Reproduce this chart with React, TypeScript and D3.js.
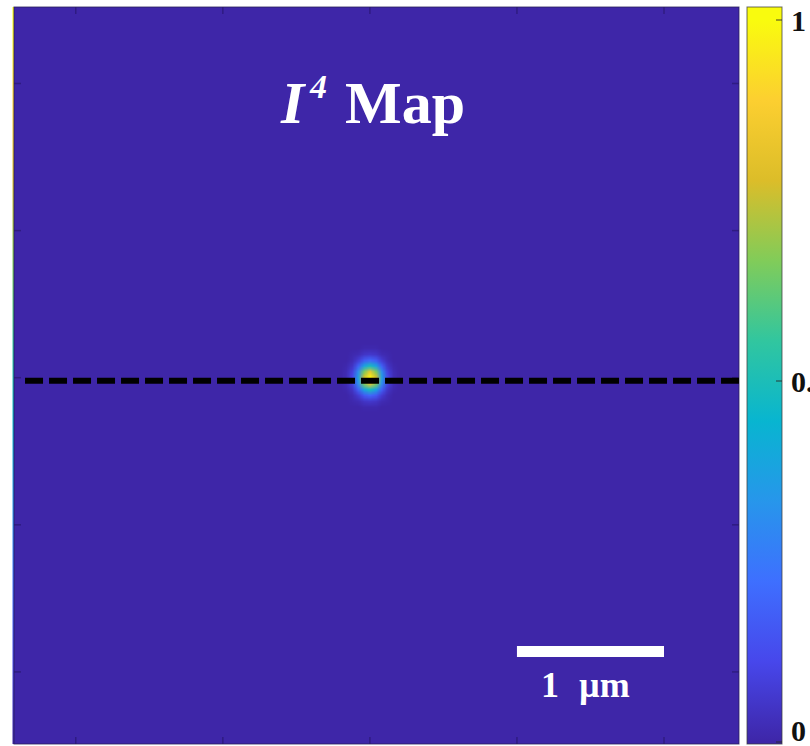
import React, { useEffect, useRef } from 'react';
import * as d3 from 'd3';

// parula colormap (10 samples, 0 -> 1)
const parula = ['#3e26a8', '#4747eb', '#3e6fff', '#2796eb', '#08b5d0', '#31c69f', '#81cc59', '#dcbd29', '#fccf30', '#f9fb0e'];

// sample grid around the focus, in µm
const spotX = [-0.24, -0.2, -0.16, -0.12, -0.08, -0.04, 0, 0.04, 0.08, 0.12, 0.16, 0.2, 0.24];
const spotY = [0.24, 0.2, 0.16, 0.12, 0.08, 0.04, 0, -0.04, -0.08, -0.12, -0.16, -0.2, -0.24];

// normalised I^4, rows top -> bottom
const spotI4 = [
  [0, 0, 0, 0, 0, 0, 0, 0, 0, 0, 0, 0, 0],
  [0, 0, 0, 0, 0, 0.01, 0.01, 0.01, 0, 0, 0, 0, 0],
  [0, 0, 0, 0.01, 0.02, 0.05, 0.06, 0.05, 0.02, 0.01, 0, 0, 0],
  [0, 0, 0, 0.02, 0.07, 0.16, 0.2, 0.16, 0.07, 0.02, 0, 0, 0],
  [0, 0, 0.01, 0.05, 0.18, 0.38, 0.49, 0.38, 0.18, 0.05, 0.01, 0, 0],
  [0, 0, 0.02, 0.09, 0.31, 0.66, 0.84, 0.66, 0.31, 0.09, 0.02, 0, 0],
  [0, 0, 0.02, 0.11, 0.37, 0.78, 1, 0.78, 0.37, 0.11, 0.02, 0, 0],
  [0, 0, 0.02, 0.09, 0.31, 0.66, 0.84, 0.66, 0.31, 0.09, 0.02, 0, 0],
  [0, 0, 0.01, 0.05, 0.18, 0.38, 0.49, 0.38, 0.18, 0.05, 0.01, 0, 0],
  [0, 0, 0, 0.02, 0.07, 0.16, 0.2, 0.16, 0.07, 0.02, 0, 0, 0],
  [0, 0, 0, 0.01, 0.02, 0.05, 0.06, 0.05, 0.02, 0.01, 0, 0, 0],
  [0, 0, 0, 0, 0, 0.01, 0.01, 0.01, 0, 0, 0, 0, 0],
  [0, 0, 0, 0, 0, 0, 0, 0, 0, 0, 0, 0, 0],
];

const xExtent = [-2.42, 2.51];
const yExtent = [2.52, -2.49];
const axisTicks = [-2, -1, 0, 1, 2];
const cbarTicks = [0, 0.5, 1];
const cbarLabels = ['0', '0.5', '1'];
const cutY = -0.02;
const cutStartX = -2.345;
const scaleBarUm = [1.0, 2.0];

const serif = '"Liberation Serif", "Times New Roman", serif';

const App = () => {
  const svgRef = useRef<SVGSVGElement>(null);

  useEffect(() => {
    const svgEl = svgRef.current!;
    svgEl.innerHTML = '';
    const svg = d3.select(svgEl);

    const x = d3.scaleLinear().domain(xExtent).range([14, 739]);
    const y = d3.scaleLinear().domain(yExtent).range([7, 744]);
    const c = d3.scaleLinear().domain([0, 1]).range([742, 20]);

    const color = d3.scaleLinear<string>()
      .domain(parula.map((_, i) => i / (parula.length - 1)))
      .range(parula)
      .interpolate(d3.interpolateRgb)
      .clamp(true);

    const defs = svg.append('defs');
    const grad = defs.append('linearGradient')
      .attr('id', 'parula')
      .attr('gradientUnits', 'userSpaceOnUse')
      .attr('x1', 0).attr('x2', 0)
      .attr('y1', c(0)).attr('y2', c(1));
    parula.forEach((col, i) => {
      grad.append('stop').attr('offset', i / (parula.length - 1)).attr('stop-color', col);
    });

    // leftover sliver on the left edge
    svg.append('rect')
      .attr('x', 12.5).attr('y', 7).attr('width', 1.6).attr('height', 737)
      .attr('fill', 'url(#parula)');

    // map background
    svg.append('rect')
      .attr('x', x(xExtent[0])).attr('y', y(yExtent[0]))
      .attr('width', x(xExtent[1]) - x(xExtent[0]))
      .attr('height', y(yExtent[1]) - y(yExtent[0]))
      .attr('fill', color(0));

    // focus spot as a smoothed image
    const canvas = document.createElement('canvas');
    canvas.width = spotX.length;
    canvas.height = spotY.length;
    const ctx = canvas.getContext('2d')!;
    spotI4.forEach((row, j) => {
      row.forEach((v, i) => {
        ctx.fillStyle = color(v);
        ctx.fillRect(i, j, 1, 1);
      });
    });
    const dx = (spotX[1] - spotX[0]) / 2;
    const dy = (spotY[0] - spotY[1]) / 2;
    svg.append('image')
      .attr('href', canvas.toDataURL())
      .attr('x', x(spotX[0] - dx))
      .attr('y', y(spotY[0] + dy))
      .attr('width', x(spotX[spotX.length - 1] + dx) - x(spotX[0] - dx))
      .attr('height', y(spotY[spotY.length - 1] - dy) - y(spotY[0] + dy))
      .attr('preserveAspectRatio', 'none');

    // ticks (inward)
    const tg = svg.append('g').attr('stroke', 'rgba(20,10,60,0.35)').attr('stroke-width', 1.5);
    axisTicks.forEach(t => {
      tg.append('line').attr('x1', x(t)).attr('x2', x(t)).attr('y1', 7).attr('y2', 14);
      tg.append('line').attr('x1', x(t)).attr('x2', x(t)).attr('y1', 744).attr('y2', 737);
      tg.append('line').attr('y1', y(t)).attr('y2', y(t)).attr('x1', 14).attr('x2', 21);
      tg.append('line').attr('y1', y(t)).attr('y2', y(t)).attr('x1', 739).attr('x2', 732);
    });

    // axes box
    svg.append('rect')
      .attr('x', 14).attr('y', 7).attr('width', 725).attr('height', 737)
      .attr('fill', 'none').attr('stroke', 'rgba(40,30,90,0.8)').attr('stroke-width', 1);

    // dashed line cut
    svg.append('line')
      .attr('x1', x(cutStartX)).attr('x2', x(xExtent[1]))
      .attr('y1', y(cutY)).attr('y2', y(cutY))
      .attr('stroke', '#000').attr('stroke-width', 6)
      .attr('stroke-dasharray', '18 6');

    // title
    const title = svg.append('g').attr('fill', '#fff').attr('font-family', serif).attr('font-weight', 'bold');
    title.append('text').attr('x', 281).attr('y', 123).attr('font-size', 60).attr('font-style', 'italic').text('I');
    title.append('text').attr('x', 310).attr('y', 98).attr('font-size', 34).attr('font-style', 'italic').text('4');
    title.append('text').attr('x', 345).attr('y', 123).attr('font-size', 60).text('Map');

    // scale bar (1 µm)
    svg.append('rect')
      .attr('x', x(scaleBarUm[0])).attr('y', 646)
      .attr('width', x(scaleBarUm[1]) - x(scaleBarUm[0])).attr('height', 11)
      .attr('fill', '#fff');
    const sb = svg.append('g').attr('fill', '#fff').attr('font-family', serif).attr('font-weight', 'bold').attr('font-size', 36);
    sb.append('text').attr('x', 541).attr('y', 697).text('1');
    sb.append('text').attr('x', 579).attr('y', 697).text('\u00b5m');

    // colorbar
    svg.append('rect')
      .attr('x', 747).attr('y', 7).attr('width', 35).attr('height', 737)
      .attr('fill', 'url(#parula)')
      .attr('stroke', 'rgba(60,60,60,0.75)').attr('stroke-width', 1);
    cbarTicks.forEach((t, i) => {
      svg.append('line')
        .attr('x1', 782).attr('x2', 776).attr('y1', c(t)).attr('y2', c(t))
        .attr('stroke', 'rgba(40,40,40,0.6)').attr('stroke-width', 1.5);
      svg.append('text')
        .attr('x', 791).attr('y', Math.min(c(t), 730))
        .attr('dy', '0.35em')
        .attr('font-family', serif).attr('font-weight', 'bold').attr('font-size', 30)
        .attr('fill', '#111')
        .text(cbarLabels[i]);
    });
  }, []);

  return (
    <svg ref={svgRef} width={810} height={746} style={{ position: 'absolute', left: 0, top: 0, background: '#fff' }} />
  );
};

export default App;
